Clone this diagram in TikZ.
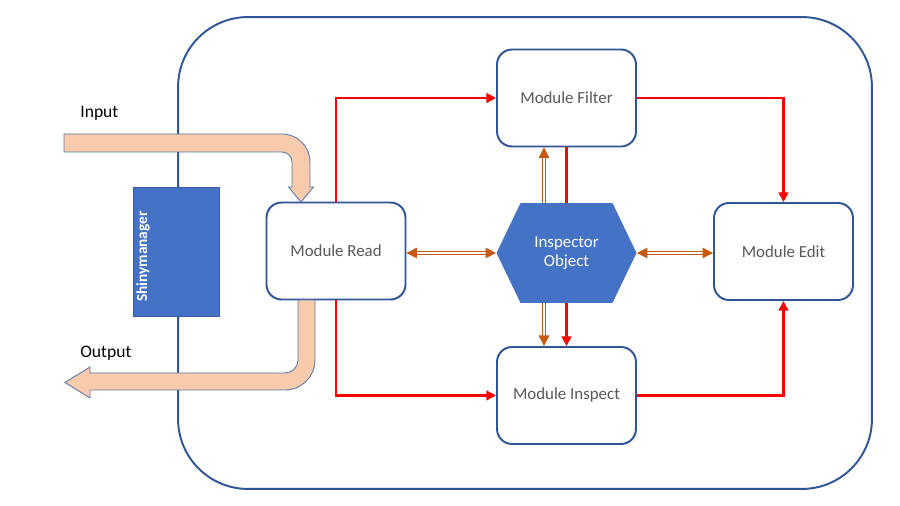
\documentclass[tikz,border=0pt]{standalone}
\usepackage{fontspec}
\setmainfont{Carlito}
\usetikzlibrary{arrows.meta,calc}
\definecolor{frameblue}{HTML}{2F5597}
\definecolor{fillblue}{HTML}{4472C4}
\definecolor{redline}{HTML}{FF0000}
\definecolor{orangeline}{HTML}{C55A11}
\definecolor{peach}{HTML}{F8CBAD}
\definecolor{labelgrey}{HTML}{595959}
\tikzset{otip/.tip={Triangle[length=6pt,width=6pt]}}
\begin{document}
\begin{tikzpicture}[x=0.02cm,y=-0.02cm,
 modbox/.style={draw=frameblue, line width=1.1pt, rounded corners=0.3cm, fill=white,
   minimum width=2.78cm, minimum height=1.94cm, text=labelgrey, font=\fontsize{9.6}{11.5}\selectfont},
 redarrow/.style={draw=redline, line width=1.3pt, -{Triangle[length=5.5pt,width=5.5pt]}},
 redseg/.style={draw=redline, line width=1.3pt},
 dblarrow/.style={draw=orangeline, double=white, line width=0.65pt, double distance=1.1pt},
 band/.style={fill=peach, draw=frameblue!80, line width=0.5pt},
 plain/.style={font=\fontsize{10}{12}\selectfont, inner sep=0}]
\useasboundingbox (0,0) rectangle (900,506);
% container
\node[draw=frameblue, line width=1.1pt, rounded corners=1.4cm, minimum width=13.88cm, minimum height=9.44cm] (frame) at (525,253) {};
% shinymanager
\node[fill=fillblue, draw=frameblue!70!fillblue, line width=0.5pt, minimum width=1.72cm, minimum height=2.58cm] (sm) at (176,251.5) {};
\node[rotate=90, anchor=base west, text=white, inner sep=0, font=\fontsize{8.7}{11}\selectfont\bfseries] (smlabel) at (147,302) {Shinymanager};
% modules
\node[modbox] (filter) at (566.5,98) {Module Filter};
\node[modbox] (read) at (336,251) {Module Read};
\node[modbox] (edit) at (783.5,251.5) {Module Edit};
\node[modbox] (inspect) at (566.5,395.5) {Module Inspect};
\node[minimum width=2.8cm, minimum height=2cm, inner sep=0, text=white, align=center,
  font=\fontsize{9.6}{11.3}\selectfont,
  path picture={\fill[fillblue] (path picture bounding box.west)
     -- ([xshift=0.48cm]path picture bounding box.north west)
     -- ([xshift=-0.48cm]path picture bounding box.north east)
     -- (path picture bounding box.east)
     -- ([xshift=-0.48cm]path picture bounding box.south east)
     -- ([xshift=0.48cm]path picture bounding box.south west) -- cycle;}]
  (obj) at (566.5,253) {Inspector\\Object};
% red connectors
\draw[redarrow] (read.north) |- (filter.west);
\draw[redarrow] (filter.east) -| (edit.north);
\draw[redarrow] (read.south) |- (inspect.west);
\draw[redarrow] (inspect.east) -| (edit.south);
\draw[redseg] (filter.south) -- (obj.north);
\draw[redarrow] (obj.south) -- (inspect.north);
% orange double connectors
\draw[dblarrow, otip-otip] (read.east |- obj.west) -- (obj.west);
\draw[dblarrow, otip-otip] (obj.east) -- (edit.west |- obj.east);
\draw[dblarrow, -otip] ([xshift=-0.45cm]obj.north) -- ([xshift=-0.45cm]filter.south);
\draw[dblarrow, -otip] ([xshift=-0.45cm]obj.south) -- ([xshift=-0.45cm]inspect.north);
% input band
\draw[band] (64,134) -- (282,134) arc[start angle=90,end angle=0,radius=0.56cm]
  -- (310,187) -- (313.5,187) -- (301,202) -- (288.5,187) -- (292,187) -- (292,162)
  arc[start angle=0,end angle=90,radius=0.2cm] -- (64,152) -- cycle;
% output band
\draw[band] (298,300) -- (315,300) -- (315,360) arc[start angle=0,end angle=-90,radius=0.6cm]
  -- (90,390) -- (90,398) -- (65,382.5) -- (90,367) -- (90,373) -- (285,373)
  arc[start angle=-90,end angle=0,radius=0.26cm] -- cycle;
% labels
\node[plain, anchor=west] (inlabel) at (80,113) {Input};
\node[plain, anchor=west] (outlabel) at (80,353) {Output};
\end{tikzpicture}
\end{document}
